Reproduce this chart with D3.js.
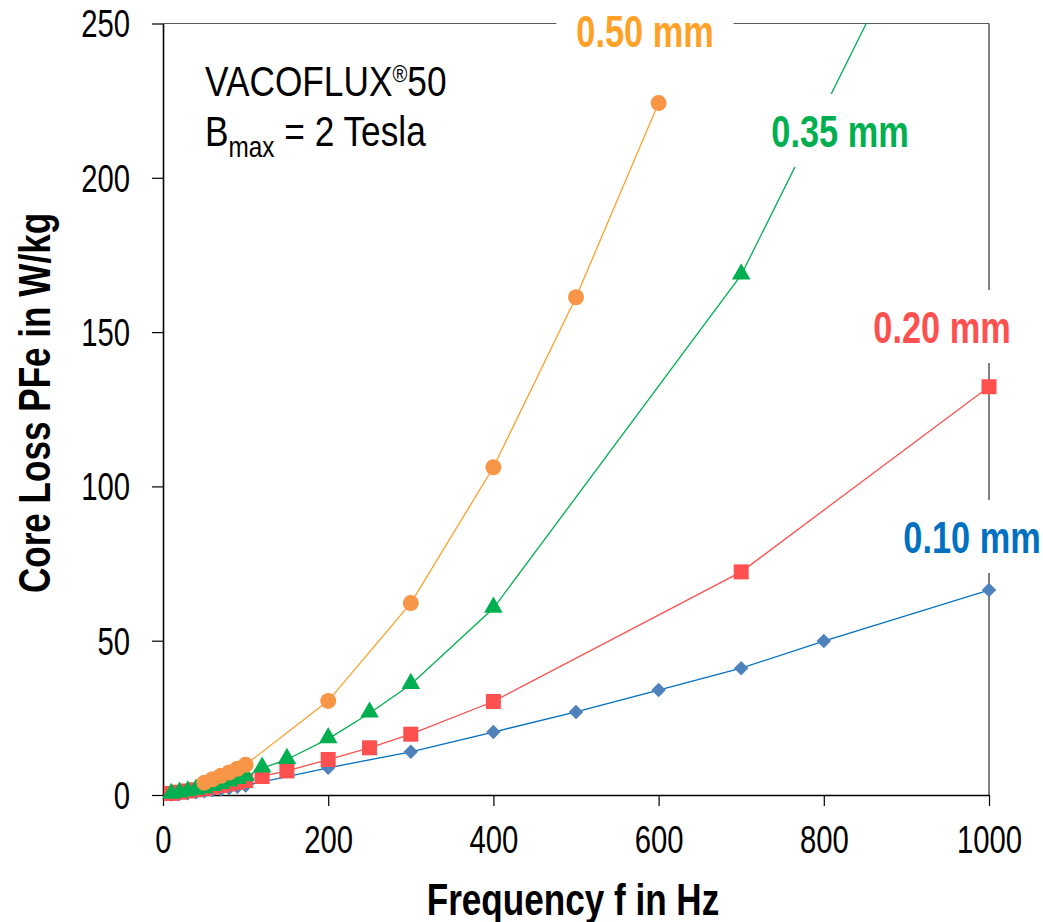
<!DOCTYPE html>
<html>
<head>
<meta charset="utf-8">
<style>
  body { margin: 0; background: #fff; }
  svg text { font-family: "Liberation Sans", Arial, sans-serif; }
</style>
</head>
<body>
<script src="https://cdn.jsdelivr.net/npm/d3@7"></script>
<script>
// --- data ---
var xTicks = [0, 200, 400, 600, 800, 1000];
var yTicks = [0, 50, 100, 150, 200, 250];

var freq010 = [10, 20, 30, 40, 50, 60, 70, 80, 90, 100, 200, 300, 400, 500, 600, 700, 800, 1000];
var loss010 = [0.15, 0.35, 0.6, 0.9, 1.2, 1.5, 1.9, 2.3, 2.7, 3.1, 8.8, 14.0, 20.4, 26.9, 34.0, 41.1, 49.9, 66.4];

var freq020 = [10, 20, 30, 40, 50, 60, 70, 80, 90, 100, 120, 150, 200, 250, 300, 400, 700, 1000];
var loss020 = [0.5, 0.9, 1.3, 1.7, 2.1, 2.6, 3.1, 3.6, 4.1, 4.7, 6.0, 7.8, 11.5, 15.3, 19.7, 30.3, 72.3, 132.3];

var freq035 = [10, 20, 30, 40, 50, 60, 70, 80, 90, 100, 120, 150, 200, 250, 300, 400, 700, 1000];
var loss035 = [0.2, 0.6, 1.0, 1.5, 2.0, 2.7, 3.4, 4.2, 5.0, 5.9, 8.7, 11.5, 18.2, 26.5, 35.8, 60.5, 168.5, 330];

var freq050 = [50, 60, 70, 80, 90, 100, 200, 300, 400, 500, 600];
var loss050 = [4.0, 5.1, 6.2, 7.3, 8.5, 9.8, 30.5, 62.2, 106.2, 161.3, 224.2];

var seriesNames = ["0.10 mm", "0.20 mm", "0.35 mm", "0.50 mm"];

var W = 1043, H = 922;
var plotL = 163, plotR = 989, plotT = 23.5, plotB = 795;

var x = d3.scaleLinear().domain([0, 1000]).range([plotL, plotR]);
var y = d3.scaleLinear().domain([0, 250]).range([plotB, plotT]);

var svg = d3.select("body").append("svg")
    .attr("width", W).attr("height", H);

svg.append("defs").append("clipPath").attr("id", "plot")
    .append("rect").attr("x", plotL).attr("y", plotT)
    .attr("width", plotR - plotL).attr("height", plotB - plotT);

// frame (top and right)
svg.append("line").attr("x1", plotL).attr("x2", plotR).attr("y1", plotT).attr("y2", plotT)
    .attr("stroke", "#595959").attr("stroke-width", 1);
svg.append("line").attr("x1", plotR).attr("x2", plotR).attr("y1", plotT).attr("y2", plotB)
    .attr("stroke", "#000").attr("stroke-width", 1);

var series = [
    { name: seriesNames[0], f: freq010, v: loss010, line: "#0070C0", mark: "#4F81BD", label: "#0070C0",
      sym: d3.symbolSquare, size: 105, rot: 45, lx: 972, ly: 553 },
    { name: seriesNames[1], f: freq020, v: loss020, line: "#FF5050", mark: "#FF5050", label: "#FF5050",
      sym: d3.symbolSquare, size: 225, rot: 0, lx: 942, ly: 343 },
    { name: seriesNames[2], f: freq035, v: loss035, line: "#00B050", mark: "#00B050", label: "#00B050",
      sym: d3.symbolTriangle, size: 150, rot: 0, lx: 840, ly: 147 },
    { name: seriesNames[3], f: freq050, v: loss050, line: "#FFA02A", mark: "#F79646", label: "#FFA126",
      sym: d3.symbolCircle, size: 201, rot: 0, lx: 645, ly: 47 }
];

var line = d3.line().x(function (d) { return x(d[0]); }).y(function (d) { return y(d[1]); });

var lines = svg.append("g").attr("clip-path", "url(#plot)");
var marks = svg.append("g");

series.forEach(function (s) {
    var pts = s.f.map(function (f, i) { return [f, s.v[i]]; });
    var g = marks.append("g");
    g.append("path").datum(pts)
        .attr("clip-path", "url(#plot)")
        .attr("d", line)
        .attr("fill", "none")
        .attr("stroke", s.line)
        .attr("stroke-width", 1.3);
    // markers are not clipped, but points beyond the y range are left out
    g.selectAll(null).data(pts.filter(function (d) { return d[1] <= 250; }))
        .enter().append("path")
        .attr("d", d3.symbol().type(s.sym).size(s.size))
        .attr("transform", function (d) {
            var yy = y(d[1]);
            if (s.sym === d3.symbolTriangle) yy -= 1;
            return "translate(" + x(d[0]) + "," + yy + ") rotate(" + s.rot + ")";
        })
        .attr("fill", s.mark);
});

// axes
var xAxis = svg.append("g").attr("transform", "translate(0," + plotB + ")")
    .call(d3.axisBottom(x).tickValues(xTicks).tickFormat(d3.format("d")).tickSize(11).tickSizeOuter(0));
var yAxis = svg.append("g").attr("transform", "translate(" + plotL + ",0)")
    .call(d3.axisLeft(y).tickValues(yTicks).tickFormat(d3.format("d")).tickSize(11).tickSizeOuter(0));

[xAxis, yAxis].forEach(function (a) {
    a.select(".domain").attr("stroke", "#000").attr("stroke-width", 1.6);
    a.selectAll(".tick line").attr("stroke", "#000").attr("stroke-width", 1.2);
    a.selectAll(".tick text").attr("fill", "#000").style("font-size", "38px");
});
xAxis.selectAll(".tick text").attr("y", 0).attr("dy", 0)
    .attr("transform", "translate(0,58) scale(0.77,1)");
yAxis.selectAll(".tick text").attr("x", 0).attr("dy", "0.35em")
    .attr("transform", "translate(-33,0) scale(0.77,1)");

// redraw markers above the axis line so the ones at 0 sit on top
marks.raise();

// series labels with white boxes
series.forEach(function (s) {
    var g = svg.append("g").attr("transform", "translate(" + s.lx + "," + s.ly + ")");
    var rect = g.append("rect").attr("fill", "#fff");
    var t = g.append("text")
        .attr("text-anchor", "middle")
        .attr("transform", "scale(0.78,1)")
        .style("font-size", "44px").style("font-weight", "bold")
        .attr("fill", s.label)
        .text(s.name);
    var w = t.node().getComputedTextLength() * 0.78;
    rect.attr("x", -w / 2 - 20).attr("width", w + 40)
        .attr("y", -31 - 22).attr("height", 31 + 22 + 20);
});

// annotation
var ann = svg.append("g").attr("transform", "translate(205,0)");
var t1 = ann.append("text").attr("transform", "translate(0,96) scale(0.84,1)")
    .style("font-size", "42px").attr("fill", "#000");
t1.append("tspan").text("VACOFLUX");
t1.append("tspan").attr("dy", -14).style("font-size", "24px").text("®");
t1.append("tspan").attr("dy", 14).text("50");
var t2 = ann.append("text").attr("transform", "translate(0,146) scale(0.84,1)")
    .style("font-size", "42px").attr("fill", "#000");
t2.append("tspan").text("B");
t2.append("tspan").attr("dy", 11).style("font-size", "29px").text("max");
t2.append("tspan").attr("dy", -11).text(" = 2 Tesla");

// axis titles
svg.append("text")
    .attr("transform", "translate(573,915) scale(0.78,1)")
    .attr("text-anchor", "middle")
    .style("font-size", "45px").style("font-weight", "bold")
    .text("Frequency f in Hz");
svg.append("text")
    .attr("transform", "translate(50,403) rotate(-90) scale(0.78,1)")
    .attr("text-anchor", "middle")
    .style("font-size", "45px").style("font-weight", "bold")
    .text("Core Loss PFe in W/kg");
</script>
</body>
</html>
